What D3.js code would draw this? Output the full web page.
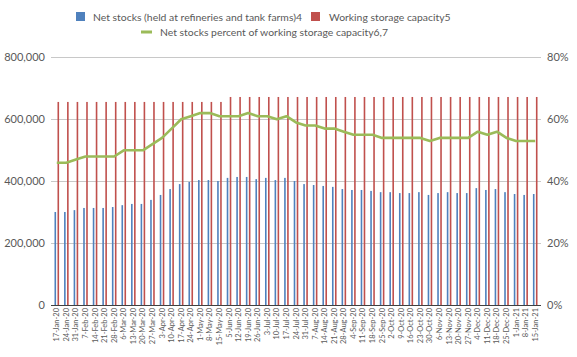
<!DOCTYPE html>
<html><head><meta charset="utf-8">
<script src="https://cdn.jsdelivr.net/npm/d3@7"></script>
<style>body{margin:0;background:#fff}svg{display:block}text{font-family:Lato,"Open Sans",sans-serif;fill:#595959}</style>
</head><body><svg id="c" width="577" height="357"></svg>
<script>
const categories = ["17-Jan-20","24-Jan-20","31-Jan-20","7-Feb-20","14-Feb-20","21-Feb-20","28-Feb-20","6-Mar-20","13-Mar-20","20-Mar-20","27-Mar-20","3-Apr-20","10-Apr-20","17-Apr-20","24-Apr-20","1-May-20","8-May-20","15-May-20","5-Jun-20","12-Jun-20","19-Jun-20","26-Jun-20","3-Jul-20","10-Jul-20","17-Jul-20","24-Jul-20","31-Jul-20","7-Aug-20","14-Aug-20","21-Aug-20","28-Aug-20","4-Sep-20","11-Sep-20","18-Sep-20","25-Sep-20","2-Oct-20","9-Oct-20","16-Oct-20","23-Oct-20","30-Oct-20","6-Nov-20","13-Nov-20","20-Nov-20","27-Nov-20","4-Dec-20","11-Dec-20","18-Dec-20","25-Dec-20","1-Jan-21","8-Jan-21","15-Jan-21"];
const netStocks = [301000,301000,307000,314000,314000,314000,317000,323000,327000,327000,340000,356000,375000,391000,398000,404000,404000,401000,411000,414000,414000,407000,411000,404000,411000,401000,391000,388000,385000,382000,375000,372000,372000,369000,365000,365000,362000,362000,365000,356000,362000,365000,362000,362000,378000,372000,375000,365000,359000,356000,359000];
const capacity = [656000,656000,656000,656000,656000,656000,656000,656000,656000,656000,656000,656000,656000,656000,656000,656000,656000,656000,672000,672000,672000,672000,672000,672000,672000,672000,672000,672000,672000,672000,672000,672000,672000,672000,672000,672000,672000,672000,672000,672000,672000,672000,672000,672000,672000,672000,672000,672000,672000,672000,672000];
const percent = [0.46,0.46,0.47,0.48,0.48,0.48,0.48,0.50,0.50,0.50,0.52,0.54,0.57,0.60,0.61,0.62,0.62,0.61,0.61,0.61,0.62,0.61,0.61,0.60,0.61,0.59,0.58,0.58,0.57,0.57,0.56,0.55,0.55,0.55,0.54,0.54,0.54,0.54,0.54,0.53,0.54,0.54,0.54,0.54,0.56,0.55,0.56,0.54,0.53,0.53,0.53];
const leftTicks = [0,200000,400000,600000,800000];
const rightTicks = [0,0.2,0.4,0.6,0.8];
const seriesNames = ["Net stocks (held at refineries and tank farms)4","Working storage capacity5","Net stocks percent of working storage capacity6,7"];
const colors = ["#4F81BD","#C0504D","#9BBB59"];

const svg = d3.select("#c");
const x = d3.scaleBand().domain(categories).range([52,540]).padding(0);
const y = d3.scaleLinear().domain([0,800000]).range([305.3,57.3]);
const y2 = d3.scaleLinear().domain([0,0.8]).range([305.3,57.3]);

// gridlines
svg.append("g").selectAll("line").data(leftTicks.slice(1)).join("line")
  .attr("x1",51).attr("x2",541).attr("y1",d=>Math.round(y(d))+0.5).attr("y2",d=>Math.round(y(d))+0.5)
  .attr("stroke","#C8C8C8").attr("stroke-width",1);

// left axis
const la = svg.append("g").attr("transform","translate(51,0)")
  .call(d3.axisLeft(y).tickValues(leftTicks).tickFormat(d3.format(",")).tickSize(0).tickPadding(6));
la.select(".domain").remove();
la.selectAll("text").attr("font-size","11px").style("fill","#595959");

// right axis
const ra = svg.append("g").attr("transform","translate(541,0)")
  .call(d3.axisRight(y2).tickValues(rightTicks).tickFormat(d3.format(".0%")).tickSize(0).tickPadding(6));
ra.select(".domain").remove();
ra.selectAll("text").attr("font-size","11px").style("fill","#595959");

const bw = 1.6;
// blue bars
svg.append("g").selectAll("rect").data(netStocks).join("rect")
  .attr("x",(d,i)=>x(categories[i])+x.bandwidth()/2-1.5-bw/2).attr("width",bw)
  .attr("y",d=>y(d)).attr("height",d=>y(0)-y(d)).attr("fill",colors[0]);
// red bars
svg.append("g").selectAll("rect").data(capacity).join("rect")
  .attr("x",(d,i)=>x(categories[i])+x.bandwidth()/2+1.5-bw/2).attr("width",bw)
  .attr("y",d=>y(d)).attr("height",d=>y(0)-y(d)).attr("fill",colors[1]);

// x axis line
svg.append("line").attr("x1",51).attr("x2",541).attr("y1",305.5).attr("y2",305.5).attr("stroke","#404040").attr("stroke-width",1);

// x labels
svg.append("g").selectAll("text").data(categories).join("text")
  .attr("transform",d=>`translate(${x(d)+x.bandwidth()/2+2.5},308) rotate(-90)`)
  .attr("text-anchor","end").attr("font-size","7.5px").text(d=>d);

// line
const line = d3.line().x((d,i)=>x(categories[i])+x.bandwidth()/2).y(d=>y2(d));
svg.append("path").datum(percent).attr("d",line).attr("fill","none")
  .attr("stroke",colors[2]).attr("stroke-width",2.6).attr("stroke-linejoin","round");

// legend
const lg = svg.append("g");
lg.append("rect").attr("x",76).attr("y",12).attr("width",9).attr("height",9).attr("fill",colors[0]);
lg.append("text").attr("x",93).attr("y",20.5).attr("font-size","10.4px").text(seriesNames[0]);
lg.append("rect").attr("x",311).attr("y",12).attr("width",9).attr("height",9).attr("fill",colors[1]);
lg.append("text").attr("x",329).attr("y",20.5).attr("font-size","10.4px").text(seriesNames[1]);
lg.append("line").attr("x1",141).attr("x2",152).attr("y1",32).attr("y2",32).attr("stroke",colors[2]).attr("stroke-width",3);
lg.append("text").attr("x",160).attr("y",36).attr("font-size","10.4px").text(seriesNames[2]);
</script></body></html>
